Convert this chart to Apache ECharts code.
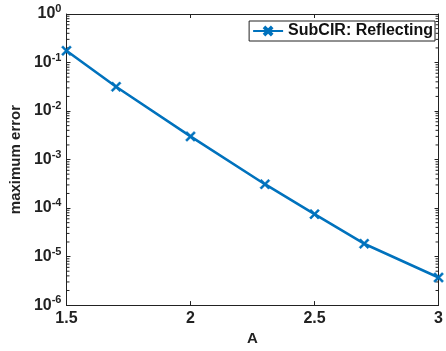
<!DOCTYPE html>
<html>
<head>
<meta charset="utf-8">
<script src="https://cdn.jsdelivr.net/npm/echarts@6/dist/echarts.min.js"></script>
<style>
  html, body { margin: 0; padding: 0; background: #fff; }
  #chart { width: 446px; height: 351px; }
</style>
</head>
<body>
<div id="chart"></div>
<script>
// values
const A = [1.5, 1.7, 2.0, 2.3, 2.5, 2.7, 3.0];
const maxErr = [0.175, 0.0316, 0.0030, 3.1e-4, 7.5e-5, 1.84e-5, 3.7e-6];
const xTicks = [1.5, 2, 2.5, 3];
const seriesName = 'SubCIR: Reflecting';

const blue = '#0072BD';
const font = 'Liberation Sans, Arial, Helvetica, sans-serif';
const crossPath = 'path://M0,1.5L1.5,0L5,3.5L8.5,0L10,1.5L6.5,5L10,8.5L8.5,10L5,6.5L1.5,10L0,8.5L3.5,5Z';

// minor ticks at k*10^n for the log axis (drawn on both sides like a boxed matlab axes)
const minorVals = [];
for (let n = -6; n < 0; n++) {
  for (let k = 2; k <= 9; k++) minorVals.push(k * Math.pow(10, n));
}

const chart = echarts.init(document.getElementById('chart'));

const option = {
  animation: false,
  grid: { left: 62, right: 3, top: 14, bottom: 36 },
  legend: {
    right: 11, top: 21,
    data: [seriesName],
    itemWidth: 30, itemHeight: 10, itemGap: 4,
    padding: [2, 2, 2, 3],
    borderColor: '#222', borderWidth: 1, borderRadius: 0,
    backgroundColor: '#fff',
    textStyle: { fontFamily: font, fontWeight: 'bold', fontSize: 16, color: '#111' }
  },
  xAxis: [{
    type: 'value', min: 1.5, max: 3, interval: 0.5,
    name: 'A', nameLocation: 'middle', nameGap: 22,
    nameTextStyle: { fontFamily: font, fontWeight: 'bold', fontSize: 15, color: '#222' },
    axisLine: { lineStyle: { color: '#222', width: 1 } },
    axisTick: { inside: true, length: 4, lineStyle: { color: '#222' } },
    axisLabel: { fontFamily: font, fontWeight: 'bold', fontSize: 16, color: '#222', margin: 5,
      formatter: v => xTicks.includes(v) ? String(v) : '' },
    splitLine: { show: false }
  }, {
    type: 'value', min: 1.5, max: 3, interval: 0.5, position: 'top',
    axisLine: { lineStyle: { color: '#222', width: 1 } },
    axisTick: { inside: true, length: 4, lineStyle: { color: '#222' } },
    axisLabel: { show: false }, splitLine: { show: false }
  }],
  yAxis: [{
    type: 'log', logBase: 10, min: 1e-6, max: 1,
    name: 'maximum error', nameLocation: 'middle', nameGap: 38,
    nameTextStyle: { fontFamily: font, fontWeight: 'bold', fontSize: 15, color: '#222' },
    axisLine: { lineStyle: { color: '#222', width: 1 } },
    axisTick: { inside: true, length: 4, lineStyle: { color: '#222' } },
    axisLabel: {
      margin: 5,
      formatter: v => '{b|10}{s|' + Math.round(Math.log10(v)) + '}',
      rich: {
        b: { fontFamily: font, fontWeight: 'bold', fontSize: 16, color: '#222' },
        s: { fontFamily: font, fontWeight: 'bold', fontSize: 11, color: '#222', verticalAlign: 'bottom', padding: [0, 0, 10, 0] }
      }
    },
    splitLine: { show: false }
  }, {
    type: 'log', logBase: 10, min: 1e-6, max: 1, position: 'right',
    axisLine: { lineStyle: { color: '#222', width: 1 } },
    axisTick: { inside: true, length: 4, lineStyle: { color: '#222' } },
    axisLabel: { show: false }, splitLine: { show: false }
  }],
  series: [{
    name: seriesName,
    type: 'line',
    data: A.map((a, i) => [a, maxErr[i]]),
    symbol: crossPath,
    symbolSize: 10,
    showAllSymbol: true,
    lineStyle: { color: blue, width: 2.6 },
    itemStyle: { color: blue, borderColor: blue, borderWidth: 0.5 },
    z: 5
  }, {
    type: 'custom',
    silent: true,
    data: minorVals.map(v => [1.5, v]),
    encode: { x: 0, y: 1 },
    clip: false,
    renderItem: (params, api) => {
      const v = api.value(1);
      const pL = api.coord([1.5, v]);
      const pR = api.coord([3, v]);
      return {
        type: 'group',
        children: [
          { type: 'line', shape: { x1: pL[0], y1: pL[1], x2: pL[0] + 3, y2: pL[1] }, style: { stroke: '#222', lineWidth: 1 } },
          { type: 'line', shape: { x1: pR[0], y1: pR[1], x2: pR[0] - 3, y2: pR[1] }, style: { stroke: '#222', lineWidth: 1 } }
        ]
      };
    },
    z: 1
  }]
};

chart.setOption(option);
</script>
</body>
</html>
